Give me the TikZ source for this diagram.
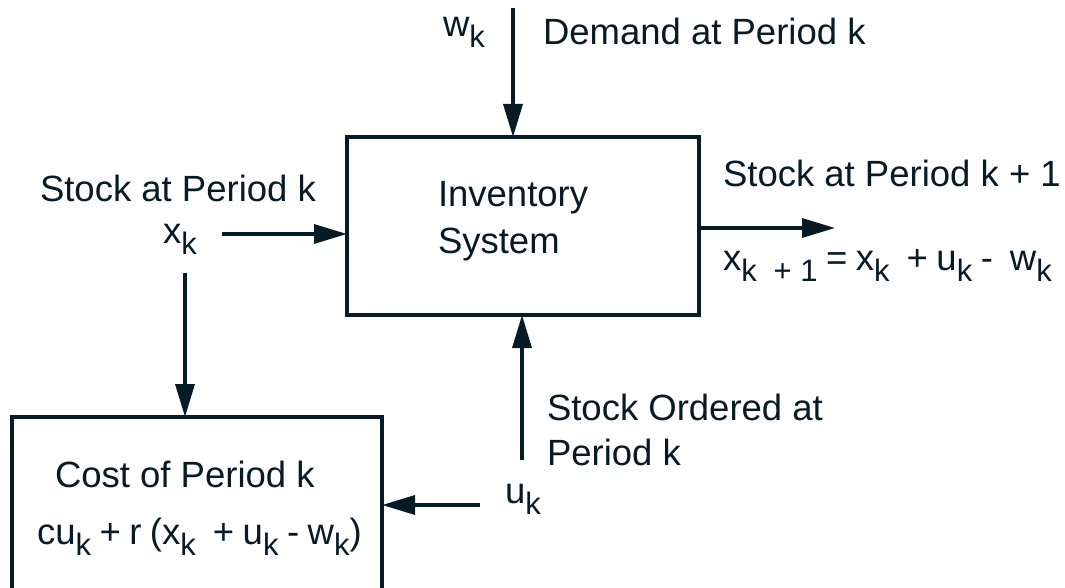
\documentclass[tikz,border=0pt]{standalone}
\usepackage{fontspec}
\setmainfont{Liberation Sans}
\usetikzlibrary{arrows.meta}
\definecolor{ink}{RGB}{8,26,36}
\newcommand\sbs[1]{\raisebox{-11pt}{\fontsize{31}{31}\selectfont #1}}
\begin{document}
\begin{tikzpicture}[x=1pt,y=-1pt,
  every node/.style={inner sep=0pt, outer sep=0pt, text=ink, font=\fontsize{36.5}{42}\selectfont},
  box/.style={draw=ink, line width=3.5pt},
  lbl/.style={anchor=base west},
  eqn/.style={anchor=base west, execute at begin node={\spaceskip=8.5pt\relax}},
  arr/.style={draw=ink, line width=3.5pt, -{Triangle[length=33pt,width=19pt]}}]
\useasboundingbox (0,0) rectangle (1065,588);
% boxes
\node[box, minimum width=352pt, minimum height=178pt] (inv) at (523,226) {};
\node[box, minimum width=370pt, minimum height=200pt] (cost) at (197,517) {};
% labels
\node[lbl] (wk) at (443,37) {w\sbs{k}};
\node[lbl] (dem) at (543,45) {Demand at Period k};
\node[lbl] (sk) at (40,202) {Stock at Period k};
\node[lbl] (xk) at (163,243) {x\sbs{k}};
\node[lbl] (inv1) at (438,207) {Inventory};
\node[lbl] (inv2) at (438,253) {System};
\node[lbl] (sk1) at (723,187) {Stock at Period k + 1};
\node[eqn] (eq) at (723,270) {x\sbs{k~ + 1} = x\sbs{k}~ + u\sbs{k} - ~w\sbs{k}};
\node[lbl] (so1) at (547,420) {Stock Ordered at};
\node[lbl] (so2) at (547,465) {Period k};
\node[lbl] (uk) at (505,503) {u\sbs{k}};
\node[lbl] (c1) at (55,487) {Cost of Period k};
\node[eqn] (c2) at (37,544) {cu\sbs{k} + r (x\sbs{k}~ + u\sbs{k} - w\sbs{k})};
% connectors
\coordinate (wtop) at (513,8);
\draw[arr] (wtop) -- (wtop |- inv.north);
\coordinate (xs) at (222,234);
\draw[arr] (xs) -- (xs -| inv.west);
\coordinate (xd) at (185,273);
\draw[arr] (xd) -- (xd |- cost.north);
\coordinate (out) at (835,228);
\draw[arr] (out -| inv.east) -- (out);
\coordinate (ub) at (522,460);
\draw[arr] (ub) -- (ub |- inv.south);
\coordinate (ul) at (480,505);
\draw[arr] (ul) -- (ul -| cost.east);
\end{tikzpicture}
\end{document}
